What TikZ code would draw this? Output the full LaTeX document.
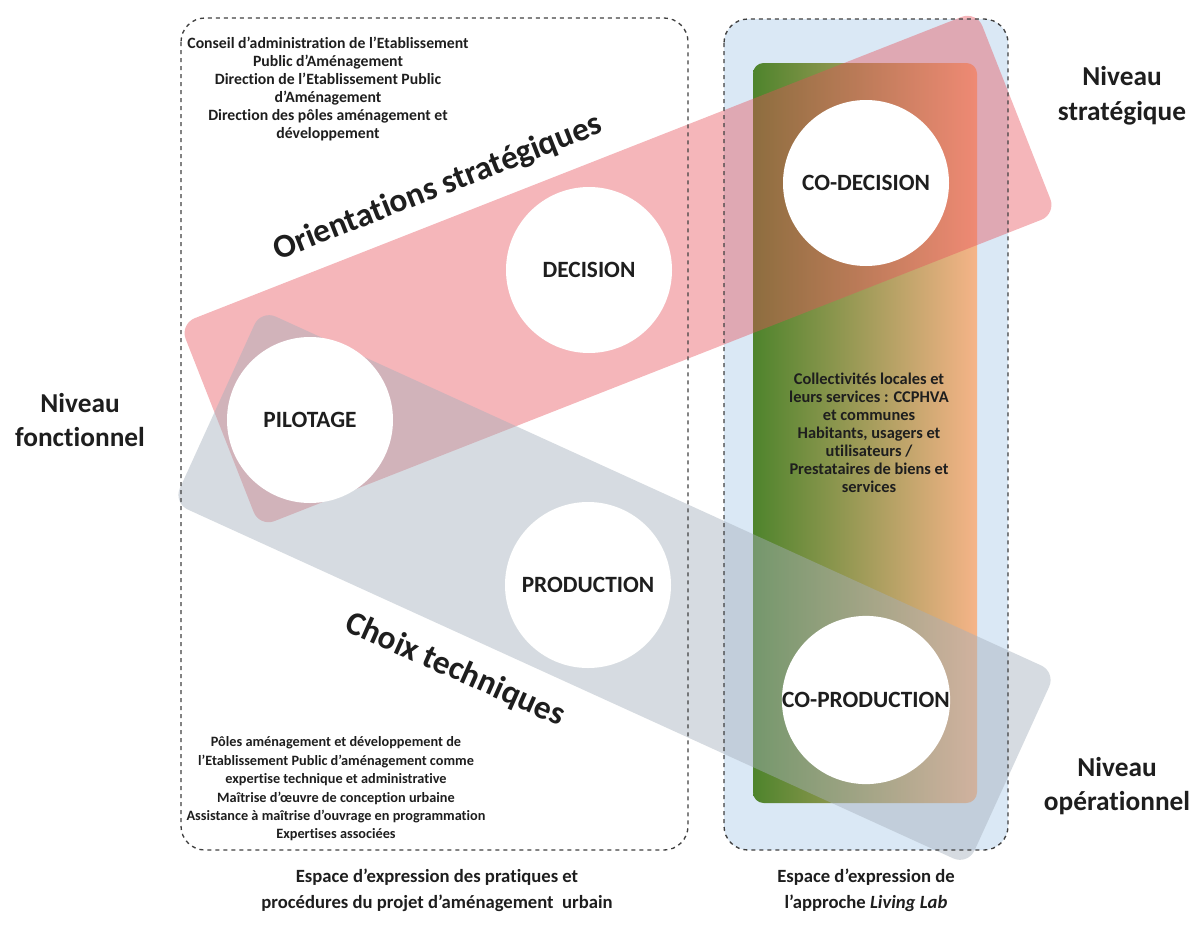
\documentclass[tikz,border=0pt]{standalone}
\usepackage{fontspec}
\setmainfont{Carlito}[Ligatures={NoCommon}]
\definecolor{txt}{RGB}{30,30,30}
\definecolor{bandred}{RGB}{230,80,90}
\definecolor{bandgray}{RGB}{165,176,188}
\definecolor{boxblue}{RGB}{218,232,245}
\definecolor{gleft}{RGB}{78,132,44}
\definecolor{gright}{RGB}{246,180,136}
\tikzset{
  frame/.style={draw=black!75, dashed, line width=1pt, rounded corners=18pt},
  band/.style={rounded corners=12pt, inner sep=0pt},
  circ/.style={circle, fill=white, minimum size=124.5pt, inner sep=0pt, text=txt, font=\bfseries\fontsize{17.5}{20}\selectfont},
  small/.style={align=center, text=txt, font=\bfseries\fontsize{11.8}{13.4}\selectfont},
  smallb/.style={align=center, text=txt, font=\bfseries\fontsize{10.7}{13.8}\selectfont},
  smallm/.style={align=center, text=txt, font=\bfseries\fontsize{12.3}{13.5}\selectfont},
  level/.style={align=center, text=txt, font=\bfseries\fontsize{20.5}{26}\selectfont},
  big/.style={text=txt, font=\bfseries\fontsize{25}{30}\selectfont},
  space/.style={align=center, text=txt, font=\bfseries\fontsize{14}{19.5}\selectfont}
}
\begin{document}
\begin{tikzpicture}[x=0.75pt,y=-0.75pt]
\useasboundingbox (0,0) rectangle (1192,935);
% right space background
\fill[boxblue, rounded corners=18pt] (724,19) rectangle (1008,850);
% gradient
\shade[left color=gleft, right color=gright, rounded corners=8pt] (753,63) rectangle (977,803);
% bands
\node[band, fill=bandred, fill opacity=0.42, rotate=21.45, minimum width=642pt, minimum height=163.5pt] (redband) at (618,269) {};
\node[band, fill=bandgray, fill opacity=0.45, rotate=-24.5, minimum width=655pt, minimum height=159pt] (grayband) at (614.5,587.5) {};
% frames
\draw[frame] (181,18) rectangle (688,850);
\draw[frame] (724,19) rectangle (1008,850);
% circles
\node[circ] (decision) at (589,270) {DECISION};
\node[circ] (pilotage) at (310,420) {PILOTAGE};
\node[circ] (production) at (588,585) {PRODUCTION};
\node[circ] (codecision) at (866,183) {CO-DECISION};
\node[circ] (coproduction) at (866,700) {CO-PRODUCTION};
% texts
\node[small] (toptext) at (328,89) {Conseil d’administration de l’Etablissement\\Public d’Aménagement\\Direction de l’Etablissement Public\\d’Aménagement\\Direction des pôles aménagement et\\développement};
\node[smallb] (bottext) at (336,789) {Pôles aménagement et développement de\\l’Etablissement Public d’aménagement comme\\expertise technique et administrative\\Maîtrise d’œuvre de conception urbaine\\Assistance à maîtrise d’ouvrage en programmation\\Expertises associées};
\node[smallm] (midtext) at (869,433) {Collectivités locales et\\leurs services : CCPHVA\\et communes\\Habitants, usagers et\\utilisateurs /\\Prestataires de biens et\\services};
\node[big, rotate=21.5] (orient) at (438,188) {Orientations stratégiques};
\node[big, rotate=-24] (choix) at (455,670) {Choix techniques};
\node[level] (nfonc) at (80,420) {Niveau\\fonctionnel};
\node[level] (nstrat) at (1122,96) {Niveau\\stratégique};
\node[level] (nop) at (1117,786) {Niveau\\opérationnel};
\node[space] (sp1) at (437,890) {Espace d’expression des pratiques et\\procédures du projet d’aménagement\ \ urbain};
\node[space] (sp2) at (866,890) {Espace d’expression de\\l’approche \textit{Living Lab}};
\end{tikzpicture}
\end{document}
